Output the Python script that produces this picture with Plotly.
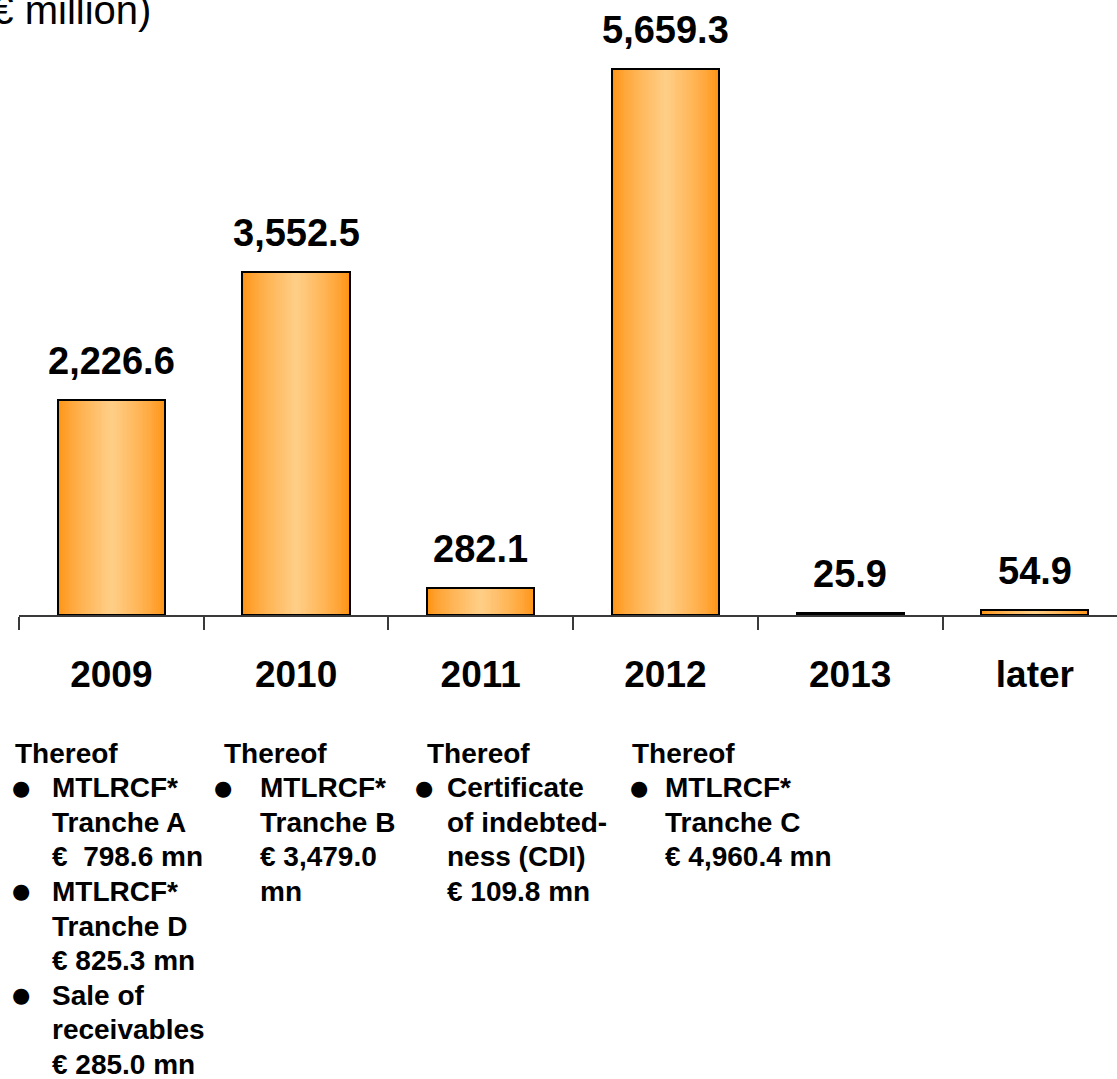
import plotly.graph_objects as go

# Maturity profile of financial liabilities (€ million)
categories = ["2009", "2010", "2011", "2012", "2013", "later"]
values = [2226.6, 3552.5, 282.1, 5659.3, 25.9, 54.9]

unit_label = "(€ million)"
note_heading = "Thereof"
notes_2009 = [["MTLRCF*", "Tranche A", "€  798.6 mn"],
              ["MTLRCF*", "Tranche D", "€ 825.3 mn"],
              ["Sale of", "receivables", "€ 285.0 mn"]]
notes_2010 = [["MTLRCF*", "Tranche B", "€ 3,479.0", "mn"]]
notes_2011 = [["Certificate", "of indebted-", "ness (CDI)", "€ 109.8 mn"]]
notes_2012 = [["MTLRCF*", "Tranche C", "€ 4,960.4 mn"]]

W, H = 1117, 1079
ML, MT = 19, 0
PLOT_H = 615
MB = H - PLOT_H - MT
PLOT_W = W - ML
CAT_PX = 184.7
BAR_W = 0.58
FONT = "Liberation Sans, Arial, sans-serif"

EDGE = (255, 146, 18)
CENTER = (255, 206, 134)


def blend(u):
    u = max(0.0, min(1.0, u)) ** 0.75
    return "rgb({},{},{})".format(*[round(e + (c - e) * u) for e, c in zip(EDGE, CENTER)])


fig = go.Figure()

# layered bars give the cylindrical orange shading (dark edges, light middle)
N = 30
for k in range(N):
    fig.add_trace(go.Bar(
        x=categories, y=values,
        width=BAR_W * (1 - k / N),
        marker=dict(color=blend(k / (N - 1)), line=dict(width=0)),
        hoverinfo="skip", showlegend=False,
    ))

# black outline on top
fig.add_trace(go.Bar(
    x=categories, y=values, width=BAR_W,
    marker=dict(color="rgba(0,0,0,0)", line=dict(color="black", width=2)),
    hoverinfo="skip", showlegend=False,
))


def px_x(px):
    return (px - ML) / PLOT_W


def px_y(py):
    return 1 - (py - MT) / PLOT_H


annotations = []

# value labels above each bar (x given as category index)
for i, v in enumerate(values):
    annotations.append(dict(
        x=i, y=v, xref="x", yref="y", text=f"{v:,.1f}",
        showarrow=False, yanchor="bottom", yshift=16,
        font=dict(family=FONT, size=38, color="black", weight="bold"),
    ))

# unit label, partly running off the left edge
annotations.append(dict(
    x=px_x(153), y=px_y(-14), xref="paper", yref="paper", text=unit_label,
    showarrow=False, xanchor="right", yanchor="top",
    font=dict(family=FONT, size=40, color="black"),
))

# breakdown notes below the axis
LINE = 34.6
TOP = 753
columns = [
    (notes_2009, 13, 21, 50),
    (notes_2010, 222, 223, 258),
    (notes_2011, 425, 424, 445),
    (notes_2012, 630, 639, 663),
]
note_font = dict(family=FONT, size=28, color="black", weight="bold")
for items, head_x, bullet_x, text_x in columns:
    annotations.append(dict(
        x=px_x(head_x), y=px_y(TOP), xref="paper", yref="paper",
        text=note_heading, showarrow=False, xanchor="left", yanchor="middle",
        font=note_font,
    ))
    line = 1
    for item in items:
        annotations.append(dict(
            x=px_x(bullet_x), y=px_y(TOP + LINE * line), xref="paper", yref="paper",
            text="●", showarrow=False, xanchor="center", yanchor="middle",
            font=dict(family="DejaVu Sans", size=21, color="black"),
        ))
        for row in item:
            annotations.append(dict(
                x=px_x(text_x), y=px_y(TOP + LINE * line), xref="paper", yref="paper",
                text=row, showarrow=False, xanchor="left", yanchor="middle",
                font=note_font,
            ))
            line += 1

fig.update_layout(
    width=W, height=H, autosize=False,
    margin=dict(l=ML, r=0, t=MT, b=MB, pad=0),
    paper_bgcolor="white", plot_bgcolor="white",
    barmode="overlay", bargap=0,
    showlegend=False,
    annotations=annotations,
    xaxis=dict(
        type="category",
        range=[-0.5, -0.5 + PLOT_W / CAT_PX],
        showline=True, linecolor="#3a3a3a", linewidth=1.5,
        ticks="outside", tickson="boundaries", ticklen=13,
        tickcolor="#3a3a3a", tickwidth=1.5,
        ticklabelstandoff=26,
        tickfont=dict(family=FONT, size=37, color="black", weight="bold"),
        showgrid=False, zeroline=False, fixedrange=True,
    ),
    yaxis=dict(
        range=[0, PLOT_H * 5659.3 / 546],
        visible=False, showgrid=False, zeroline=False, fixedrange=True,
    ),
)

fig.write_html("out.html")
